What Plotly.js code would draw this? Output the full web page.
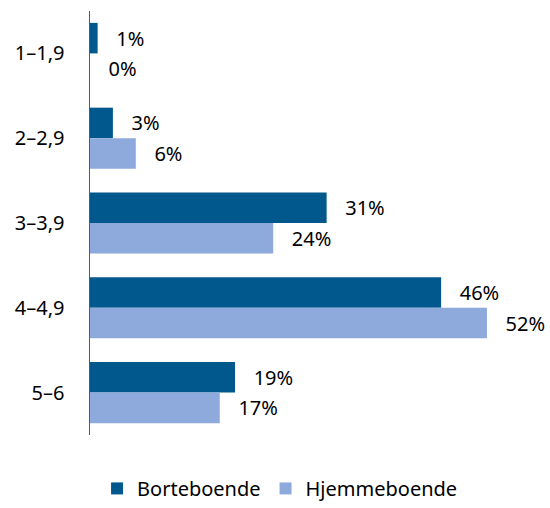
<!DOCTYPE html>
<html>
<head>
<meta charset="utf-8">
<script src="https://cdn.plot.ly/plotly-3.0.1.min.js"></script>
<style>
  html, body { margin: 0; padding: 0; background: #fff; }
  #myDiv { width: 550px; height: 508px; }
</style>
</head>
<body>
<div id="myDiv"></div>
<script>
var categories = ['1–1,9', '2–2,9', '3–3,9', '4–4,9', '5–6'];
var borteboende = [1, 3, 31, 46, 19];
var hjemmeboende = [0, 6, 24, 52, 17];

function labels(vals) {
  return vals.map(function (v) { return '\u00a0\u00a0\u00a0' + v + '%'; });
}

var trace1 = {
  type: 'bar',
  orientation: 'h',
  name: 'Borteboende',
  y: categories,
  x: borteboende,
  text: labels(borteboende),
  textposition: 'outside',
  cliponaxis: false,
  marker: { color: '#00588d' },
  hoverinfo: 'none'
};

var trace2 = {
  type: 'bar',
  orientation: 'h',
  name: 'Hjemmeboende',
  y: categories,
  x: hjemmeboende,
  text: labels(hjemmeboende),
  textposition: 'outside',
  cliponaxis: false,
  marker: { color: '#8eaadc' },
  hoverinfo: 'none'
};

var data = [trace1, trace2];

var layout = {
  width: 550,
  height: 508,
  margin: { l: 90, r: 2, t: 11, b: 73, autoexpand: false },
  font: { family: '"Noto Sans", "DejaVu Sans", sans-serif', size: 20, color: '#000' },
  barmode: 'group',
  bargap: 0.28,
  bargroupgap: 0,
  showlegend: true,
  legend: {
    orientation: 'h',
    x: 0.415,
    xanchor: 'center',
    y: -0.08,
    yanchor: 'top',
    font: { size: 20 },
    itemwidth: 30,
    traceorder: 'normal'
  },
  xaxis: {
    range: [0, 60],
    showgrid: false,
    zeroline: false,
    showticklabels: false,
    ticks: '',
    showline: false,
    fixedrange: true
  },
  yaxis: {
    autorange: 'reversed',
    showgrid: false,
    zeroline: false,
    showline: true,
    linecolor: '#595959',
    linewidth: 1.5,
    ticks: '',
    ticklabelstandoff: 20,
    tickfont: { size: 20 },
    fixedrange: true
  },
  paper_bgcolor: '#fff',
  plot_bgcolor: '#fff'
};

Plotly.newPlot('myDiv', data, layout, { displayModeBar: false, staticPlot: true });
</script>
</body>
</html>
